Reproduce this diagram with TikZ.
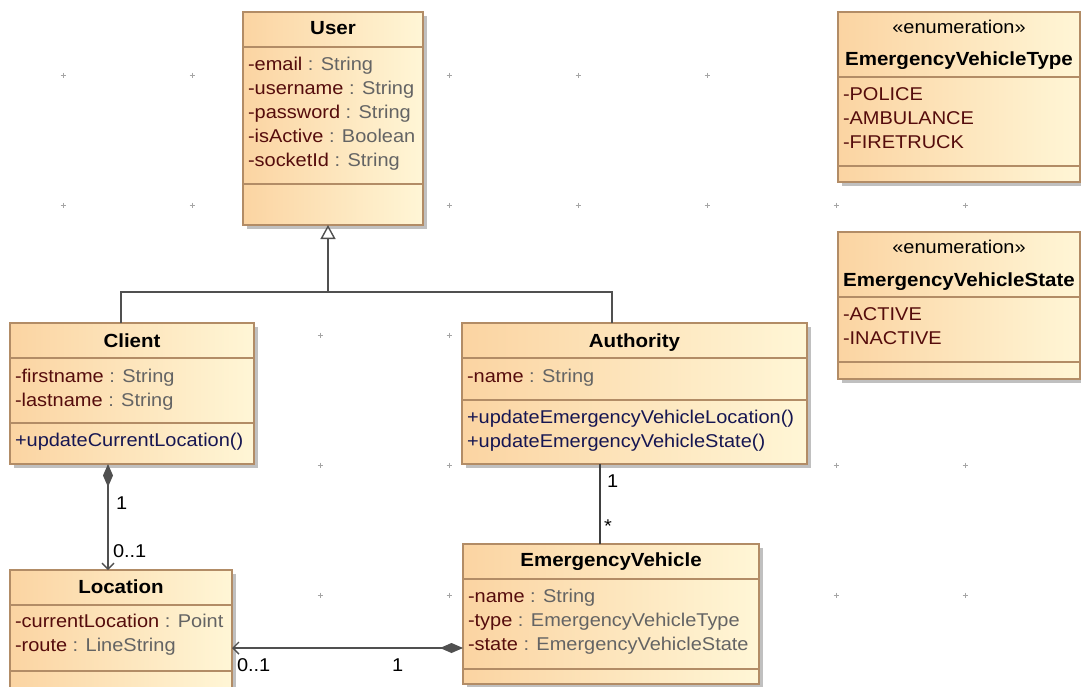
\documentclass[tikz,border=0pt]{standalone}
\usepackage{fontspec}
\setmainfont{Liberation Sans}[FakeStretch=1.08]
\usetikzlibrary{arrows.meta,shadows}
\definecolor{boxL}{RGB}{251,212,162}
\definecolor{boxR}{RGB}{255,246,214}
\definecolor{boxBorder}{RGB}{178,140,102}
\definecolor{shadowGray}{RGB}{192,192,192}
\definecolor{attrname}{RGB}{85,12,12}
\definecolor{attrtype}{RGB}{100,100,100}
\definecolor{opcolor}{RGB}{22,22,82}
\definecolor{lineGray}{RGB}{80,80,80}
\definecolor{gridGray}{RGB}{165,165,165}
\tikzset{
  umlbox/.style={draw=boxBorder, line width=1.2pt, left color=boxL, right color=boxR,
    inner sep=0pt, outer sep=0pt,
    drop shadow={shadow xshift=4pt, shadow yshift=-4pt, fill=shadowGray, opacity=1}},
  sepline/.style={draw=boxBorder, line width=1.2pt},
  txt/.style={font=\fontsize{18.5}{24}\selectfont, inner sep=0pt, outer sep=0pt},
  hdr/.style={txt, font=\fontsize{19}{24}\selectfont\bfseries},
  gridmark/.style={draw=gridGray, line width=0.9pt},
  conn/.style={draw=lineGray, line width=1.4pt},
  gen/.style={conn, -{Triangle[open, fill=white, length=14pt, width=15pt]}},
  comp/.style={conn, {Diamond[length=23pt, width=10pt]}-{Straight Barb[length=6pt, width=12pt]}},
  assoc/.style={draw=black!75, line width=1.1pt},
}
\newcommand{\umlclass}[7]{%
  \node[umlbox, anchor=north west, minimum width={(#4-#2)*1pt}, minimum height={(#5-#3)*1pt}] (#1) at (#2,#3) {};
  \draw[sepline] (#2,#6) -- (#4,#6);
  \draw[sepline] (#2,#7) -- (#4,#7);
}
\newcommand{\attrline}[5]{\node[txt, anchor=base west] (#1) at (#2,#3) {\textcolor{attrname}{#4} \textcolor{attrtype}{: #5}};}
\newcommand{\opline}[4]{\node[txt, anchor=base west, text=opcolor] (#1) at (#2,#3) {#4};}
\newcommand{\litline}[4]{\node[txt, anchor=base west, text=attrname] (#1) at (#2,#3) {#4};}
\begin{document}
\begin{tikzpicture}[x=1pt, y=-1pt]
\path[use as bounding box] (0,0) rectangle (1081,686);
\clip (0,0) rectangle (1081,686);
\fill[white] (0,0) rectangle (1081,686);
% grid marks
\foreach \gx/\gy in {63/75,192/75,449/75,578/75,707/75,
  63/205,192/205,449/205,578/205,707/205,836/205,965/205,
  320/335,449/335,
  320/465,449/465,836/465,965/465,
  320/595,449/595,836/595,965/595}{
  \draw[gridmark] (\gx-2.5,\gy) -- (\gx+2.5,\gy) (\gx,\gy-2.5) -- (\gx,\gy+2.5);
}
% User
\umlclass{user}{243}{12}{423}{225}{47}{184}
\node[hdr, anchor=base] (userT) at (333,34) {User};
\attrline{u1}{248}{70}{-email}{String}
\attrline{u2}{248}{94}{-username}{String}
\attrline{u3}{248}{118}{-password}{String}
\attrline{u4}{248}{142}{-isActive}{Boolean}
\attrline{u5}{248}{166}{-socketId}{String}
% EmergencyVehicleType
\umlclass{evtype}{838}{12}{1080}{182}{77}{166}
\node[txt, anchor=base] (evtypeS) at (959,33) {«enumeration»};
\node[hdr, anchor=base] (evtypeT) at (959,65) {EmergencyVehicleType};
\litline{t1}{843}{100}{-POLICE}
\litline{t2}{843}{124}{-AMBULANCE}
\litline{t3}{843}{148}{-FIRETRUCK}
% EmergencyVehicleState
\umlclass{evstate}{838}{232}{1080}{379}{297}{362}
\node[txt, anchor=base] (evstateS) at (959,253) {«enumeration»};
\node[hdr, anchor=base] (evstateT) at (959,286) {EmergencyVehicleState};
\litline{s1}{843}{320}{-ACTIVE}
\litline{s2}{843}{344}{-INACTIVE}
% Client
\umlclass{client}{10}{323}{254}{464}{358}{423}
\node[hdr, anchor=base] (clientT) at (132,347) {Client};
\attrline{c1}{15}{382}{-firstname}{String}
\attrline{c2}{15}{406}{-lastname}{String}
\opline{c3}{15}{446}{+updateCurrentLocation()}
% Authority
\umlclass{authority}{462}{323}{807}{464}{358}{400}
\node[hdr, anchor=base] (authorityT) at (634.5,347) {Authority};
\attrline{a1}{467}{382}{-name}{String}
\opline{a2}{467}{423}{+updateEmergencyVehicleLocation()}
\opline{a3}{467}{447}{+updateEmergencyVehicleState()}
% Location
\umlclass{location}{10}{570}{232}{700}{605}{671}
\node[hdr, anchor=base] (locationT) at (121,593) {Location};
\attrline{l1}{15}{627}{-currentLocation}{Point}
\attrline{l2}{15}{651}{-route}{LineString}
% EmergencyVehicle
\umlclass{ev}{463}{544}{759}{684}{579}{669}
\node[hdr, anchor=base] (evT) at (611,566) {EmergencyVehicle};
\attrline{e1}{468}{602}{-name}{String}
\attrline{e2}{468}{626}{-type}{EmergencyVehicleType}
\attrline{e3}{468}{650}{-state}{EmergencyVehicleState}
% generalization
\coordinate (gj) at (328,292);
\coordinate (gl) at (121,292);
\coordinate (gr) at (612,292);
\draw[conn] (client.north -| gl) -- (gl) -- (gr) -- (authority.north -| gr);
\draw[gen] (gj) -- (user.south -| gj);
% composition Client -> Location
\coordinate (cl) at (108,0);
\draw[comp] (client.south -| cl) -- (location.north -| cl);
\node[txt, anchor=base west] (m1) at (116,509) {1};
\node[txt, anchor=base west] (m2) at (113,557) {0..1};
% composition EV -> Location
\coordinate (el) at (0,648);
\draw[comp] (ev.west |- el) -- (location.east |- el);
\node[txt, anchor=base west] (m3) at (237,671) {0..1};
\node[txt, anchor=base west] (m4) at (392,671) {1};
% association Authority - EV
\coordinate (ae) at (600,0);
\draw[assoc] (authority.south -| ae) -- (ev.north -| ae);
\node[txt, anchor=base west] (m5) at (607,487) {1};
\node[txt, anchor=base west] (m6) at (604,532) {*};
\end{tikzpicture}
\end{document}
